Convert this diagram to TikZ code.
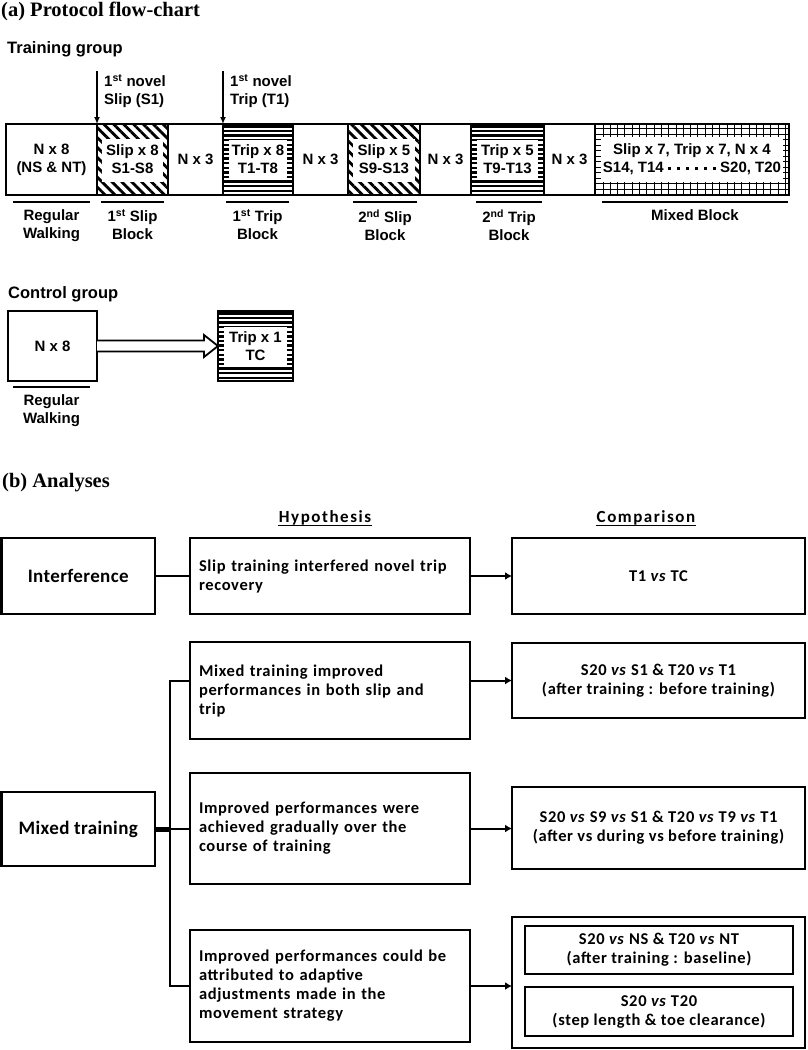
\documentclass[tikz,border=0pt]{standalone}
\usepackage{fontspec}
\usetikzlibrary{positioning,patterns.meta,arrows.meta}
\setmainfont{Liberation Sans}
\newfontfamily\tms{Liberation Serif}
\newfontfamily\helv{Liberation Sans}
\newfontfamily\carl[LetterSpace=4]{Carlito}
\newfontfamily\carlh[LetterSpace=9]{Carlito}
\newfontfamily\carll[LetterSpace=2]{Carlito}
\newcommand{\sqd}{\rule[3pt]{3pt}{3pt}}
\newcommand{\dotrow}{\sqd\hspace{6pt}\sqd\hspace{6pt}\sqd\hspace{6pt}\sqd\hspace{6pt}\sqd\hspace{6pt}\sqd}
\tikzset{
  blk/.style={draw, line width=1.8pt, outer sep=0pt, inner sep=0pt, minimum height=71,
    align=center, font=\helv\bfseries\fontsize{15}{18}\selectfont},
  slip/.style={blk, pattern={Lines[angle=-45,distance=7pt,line width=2.8pt]},
    path picture={\fill[white] ([shift={(5,15)}]path picture bounding box.north west)
      rectangle ([shift={(-5,-13)}]path picture bounding box.south east);}},
  trip/.style={blk,
    path picture={\foreach \yy in {2.4,7,...,72}
      \draw[line width=2.4pt] ([yshift=-\yy pt]path picture bounding box.north west)
        -- ([yshift=-\yy pt]path picture bounding box.north east);
      \fill[white] ([shift={(6,16)}]path picture bounding box.north west)
      rectangle ([shift={(-6,-16)}]path picture bounding box.south east);}},
  mixd/.style={blk,
    path picture={\draw[line width=0.9pt,xstep=7.3pt,ystep=5.5pt]
      (path picture bounding box.south west) grid (path picture bounding box.north east);
      \fill[white] ([shift={(6,13)}]path picture bounding box.north west)
      rectangle ([shift={(-6,-13)}]path picture bounding box.south east);}},
  lbl/.style={inner sep=0pt, align=center, font=\helv\bfseries\fontsize{15}{18}\selectfont},
  uline/.style={line width=1.8pt},
  darr/.style={line width=1.5pt, -{Latex[length=7pt,width=6pt]}},
  abox/.style={draw, line width=2.5pt, outer sep=0pt, anchor=north west,
    font=\carl\bfseries\fontsize{16.5}{19}\selectfont},
  hbox/.style={abox, align=left, text width=262, inner xsep=9pt},
  cbox/.style={abox, align=center, minimum width=293},
  lbox/.style={abox, minimum width=153.5, font=\carll\bfseries\fontsize{19}{22}\selectfont},
  con/.style={line width=2pt},
  arr/.style={line width=2pt, -{Latex[length=7pt,width=8pt]}},
}
\begin{document}
\begin{tikzpicture}[x=1pt,y=-1pt]
\useasboundingbox (0,0) rectangle (807,1050);

% Marking title (a)
\node[anchor=base west, inner sep=0pt, font=\tms\bfseries\fontsize{20.5}{24}\selectfont] (ta) at (1,16) {(a) Protocol flow-chart};%

% Marking training group
\node[anchor=base west, inner sep=0pt, font=\helv\bfseries\fontsize{16.5}{20}\selectfont] (tg) at (7,53) {Training group};%

% Drawing block row
\node[blk, minimum width=91, anchor=north west] (nrw) at (6,124) {N x 8\\(NS \& NT)};%
\node[slip, minimum width=71, right=0pt of nrw] (s1) {Slip x 8\\S1-S8};%
\node[blk, minimum width=55, right=0pt of s1] (n1) {N x 3};%
\node[trip, minimum width=70, right=0pt of n1] (t1) {Trip x 8\\T1-T8};%
\node[blk, minimum width=55, right=0pt of t1] (n2) {N x 3};%
\node[slip, minimum width=72, right=0pt of n2] (s2) {Slip x 5\\S9-S13};%
\node[blk, minimum width=51, right=0pt of s2] (n3) {N x 3};%
\node[trip, minimum width=73, right=0pt of n3] (t2) {Trip x 5\\T9-T13};%
\node[blk, minimum width=51, right=0pt of t2] (n4) {N x 3};%
\node[mixd, minimum width=194, right=0pt of n4] (mx) {Slip x 7, Trip x 7, N x 4\\S14, T14 \dotrow{} S20, T20};%

% Drawing novel perturbation arrows
\coordinate (ns1) at (97,71);%
\draw[darr] (ns1) -- (s1.north west);%
\node[lbl, align=left, anchor=north west] (ls1) at (104,74) {1\textsuperscript{st} novel\\Slip (S1)};%
\coordinate (nt1) at (223,71);%
\draw[darr] (nt1) -- (t1.north west);%
\node[lbl, align=left, anchor=north west] (lt1) at (230,74) {1\textsuperscript{st} novel\\Trip (T1)};%

% Drawing block labels
\draw[uline] (13,202) -- (90,202) node[midway, below=7pt, lbl] (lrw) {Regular\\Walking};%
\draw[uline] (101,202) -- (164,202) node[midway, below=7pt, lbl] (lsb1) {1\textsuperscript{st} Slip\\Block};%
\draw[uline] (226,202) -- (289,202) node[midway, below=7pt, lbl] (ltb1) {1\textsuperscript{st} Trip\\Block};%
\draw[uline] (353,202) -- (417,202) node[midway, below=7pt, lbl] (lsb2) {2\textsuperscript{nd} Slip\\Block};%
\draw[uline] (476,202) -- (542,202) node[midway, below=7pt, lbl] (ltb2) {2\textsuperscript{nd} Trip\\Block};%
\draw[uline] (602,202) -- (788,202) node[midway, below=7pt, lbl] (lmb) {Mixed Block};%

% Marking control group
\node[anchor=base west, inner sep=0pt, font=\helv\bfseries\fontsize{16.5}{20}\selectfont] (cg) at (8,298) {Control group};%
\node[blk, minimum width=89, minimum height=70, anchor=north west] (nc) at (8,311) {N x 8};%
\node[trip, minimum width=75, minimum height=70, anchor=north west] (tc) at (218,311) {Trip x 1\\TC};%

% Drawing arrow N x 8 -> TC
\draw[line width=1.8pt, fill=white] ([yshift=5.5]nc.east) -- ([xshift=-14,yshift=5.5]tc.west)
  -- ([xshift=-14,yshift=11]tc.west) -- (tc.west) -- ([xshift=-14,yshift=-11]tc.west)
  -- ([xshift=-14,yshift=-5.5]tc.west) -- ([yshift=-5.5]nc.east);%
\draw[uline] (13,387) -- (90,387) node[midway, below=7pt, lbl] (lrw2) {Regular\\Walking};%

% Marking title (b)
\node[anchor=base west, inner sep=0pt, font=\tms\bfseries\fontsize{20.5}{24}\selectfont] (tb) at (2,487) {(b) Analyses};%

% Marking column heads
\node[anchor=base, inner sep=1pt, font=\carlh\bfseries\fontsize{17}{20}\selectfont] (hhyp) at (325,522) {Hypothesis};%
\draw[line width=1.2pt] (hhyp.south west) -- (hhyp.south east);%
\node[anchor=base, inner sep=1pt, font=\carlh\bfseries\fontsize{17}{20}\selectfont] (hcmp) at (646,522) {Comparison};%
\draw[line width=1.2pt] (hcmp.south west) -- (hcmp.south east);%

% Drawing interference row
\node[lbox, minimum height=76] (int) at (1.5,538) {Interference};%
\node[hbox, minimum height=76] (hyp1) at (190,538) {Slip training interfered novel trip\\recovery};%
\node[cbox, minimum height=76] (cmp1) at (512,538) {T1 \textit{vs} TC};%
\draw[con] (int) -- (hyp1);%
\draw[arr] (hyp1) -- (cmp1);%

% Drawing mixed training rows
\node[lbox, minimum height=74] (mix) at (1.5,792) {Mixed training};%
\node[hbox, minimum height=97] (hyp2) at (190,642) {Mixed training improved\\performances in both slip and\\trip};%
\node[cbox, minimum height=75] (cmp2) at (512,643) {S20 \textit{vs} S1 \& T20 \textit{vs} T1\\(after training : before training)};%
\node[hbox, minimum height=111] (hyp3) at (190,773) {Improved performances were\\achieved gradually over the\\course of training};%
\node[cbox, minimum height=82] (cmp3) at (512,787) {S20 \textit{vs} S9 \textit{vs} S1 \& T20 \textit{vs} T9 \textit{vs} T1\\(after vs during vs before training)};%
\node[hbox, minimum height=112] (hyp4) at (190,930) {Improved performances could be\\attributed to adaptive\\adjustments made in the\\movement strategy};%
\node[cbox, minimum height=131] (cmp4) at (512,917) {};%
\node[cbox, minimum width=268, minimum height=48, line width=2.2pt] (cmp4a) at (525,926) {S20 \textit{vs} NS \& T20 \textit{vs} NT\\(after training : baseline)};%
\node[cbox, minimum width=268, minimum height=49, line width=2.2pt] (cmp4b) at (525,987) {S20 \textit{vs} T20\\(step length \& toe clearance)};%

% Drawing branch
\coordinate (br) at (170,829);%
\draw[line width=5pt] (mix.east) -- (mix.east -| br);%
\draw[con] (hyp2.west |- cmp2.west) -- (br |- cmp2.west) -- (br |- hyp4.west) -- (hyp4.west);%
\draw[con] (mix.east -| br) -- (mix.east -| hyp3.west);%

% Drawing comparison arrows
\draw[arr] (hyp2.east |- cmp2.west) -- (cmp2.west);%
\draw[arr] (hyp3.east) -- (hyp3.east -| cmp3.west);%
\draw[arr] (hyp4.east) -- (hyp4.east -| cmp4.west);%
\end{tikzpicture}
\end{document}
